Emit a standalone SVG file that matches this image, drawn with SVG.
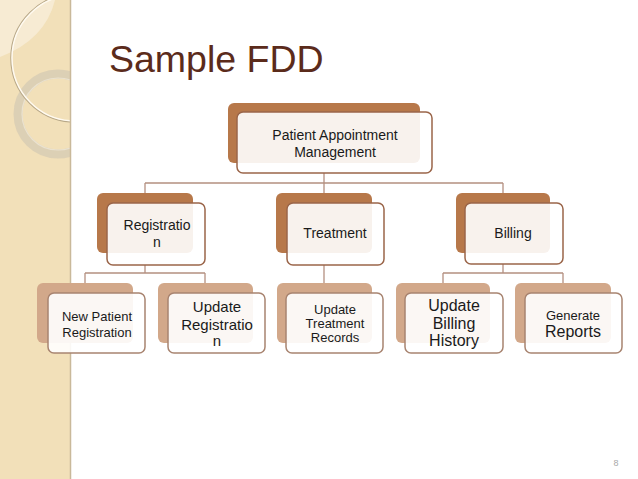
<svg xmlns="http://www.w3.org/2000/svg" width="638" height="479" viewBox="0 0 638 479">
<defs>
<style>
.t{font-family:"Liberation Sans",Arial,sans-serif;fill:#1a1a1a;text-anchor:middle}
.b1{fill:#b7784a}
.b3{fill:#d2a88a}
.f1{fill:#fff;fill-opacity:0.9;stroke:#9a6549;stroke-width:1.5}
.f3{fill:#fff;fill-opacity:0.9;stroke:#a88470;stroke-width:1.5}
.c{fill:none;stroke:#b49080;stroke-width:1.3}
</style>
<clipPath id="side"><rect x="0" y="0" width="70" height="479"/></clipPath>
</defs>
<rect width="638" height="479" fill="#fff"/>
<g id="sidebar">
<rect x="0" y="0" width="70" height="479" fill="#f2e0b9"/>
<g clip-path="url(#side)">
<path d="M0 0 H55 Q45 40 0 57 Z" fill="#f7ebd3"/>
<circle cx="58" cy="114" r="40" fill="none" stroke="#d8ccb4" stroke-width="9" stroke-opacity="0.85"/>
<circle cx="58" cy="114" r="36" fill="none" stroke="#eee6d6" stroke-width="1.2" stroke-opacity="0.8"/>
<circle cx="75" cy="58" r="64" fill="none" stroke="#b8a888" stroke-width="1.5"/>
<circle cx="75" cy="58" r="63" fill="none" stroke="#fffaf0" stroke-width="1.5"/>
</g>
<line x1="70.5" y1="0" x2="70.5" y2="479" stroke="#c9b99a" stroke-width="1.5"/>
</g>
<text x="109" y="72" font-family="'Liberation Sans',Arial,sans-serif" font-size="37.5" fill="#5b2b1b">Sample FDD</text>
<g id="connectors">
<path class="c" d="M324 173 V183 M145 183 H503 M145 183 V193 M324 183 V193 M503 183 V193"/>
<path class="c" d="M145 265 V273 M85 273 H205 M85 273 V283 M205 273 V283"/>
<path class="c" d="M324 265 V283"/>
<path class="c" d="M503 264 V273 M443 273 H563 M443 273 V283 M563 273 V283"/>
</g>
<g id="root">
<rect class="b1" x="228" y="103" width="192" height="60" rx="6"/>
<rect class="f1" x="237" y="112" width="195" height="61" rx="6"/>
<text class="t" x="335" y="140" font-size="14">Patient Appointment</text>
<text class="t" x="335" y="157" font-size="14">Management</text>
</g>
<g id="registration">
<rect class="b1" x="97" y="193" width="96" height="60" rx="6"/>
<rect class="f1" x="107" y="203" width="98" height="62" rx="6"/>
<text class="t" x="157" y="230" font-size="14">Registratio</text>
<text class="t" x="157" y="247" font-size="14">n</text>
</g>
<g id="treatment">
<rect class="b1" x="276" y="193" width="96" height="60" rx="6"/>
<rect class="f1" x="287" y="203" width="97" height="62" rx="6"/>
<text class="t" x="335" y="238" font-size="14">Treatment</text>
</g>
<g id="billing">
<rect class="b1" x="456" y="193" width="94" height="60" rx="6"/>
<rect class="f1" x="465" y="203" width="98" height="61" rx="6"/>
<text class="t" x="513" y="238" font-size="14">Billing</text>
</g>
<g id="new-patient">
<rect class="b3" x="37" y="283" width="96" height="60" rx="6"/>
<rect class="f3" x="48" y="293" width="97" height="60" rx="6"/>
<text class="t" x="97" y="321" font-size="13">New Patient</text>
<text class="t" x="97" y="337" font-size="13">Registration</text>
</g>
<g id="update-registration">
<rect class="b3" x="158" y="283" width="95" height="60" rx="6"/>
<rect class="f3" x="168" y="293" width="97" height="60" rx="6"/>
<text class="t" x="217" y="312" font-size="15">Update</text>
<text class="t" x="217" y="330" font-size="15">Registratio</text>
<text class="t" x="217" y="346" font-size="15">n</text>
</g>
<g id="update-treatment">
<rect class="b3" x="277" y="283" width="95" height="60" rx="6"/>
<rect class="f3" x="286" y="293" width="97" height="60" rx="6"/>
<text class="t" x="335" y="314" font-size="13">Update</text>
<text class="t" x="335" y="328" font-size="13">Treatment</text>
<text class="t" x="335" y="342" font-size="13">Records</text>
</g>
<g id="update-billing">
<rect class="b3" x="396" y="283" width="94" height="60" rx="6"/>
<rect class="f3" x="405" y="293" width="98" height="60" rx="6"/>
<text class="t" x="454" y="311" font-size="16">Update</text>
<text class="t" x="454" y="329" font-size="16">Billing</text>
<text class="t" x="454" y="346" font-size="16">History</text>
</g>
<g id="generate-reports">
<rect class="b3" x="515" y="283" width="96" height="60" rx="6"/>
<rect class="f3" x="525" y="293" width="97" height="60" rx="6"/>
<text class="t" x="573" y="320" font-size="13">Generate</text>
<text class="t" x="573" y="337" font-size="16">Reports</text>
</g>
<text x="616" y="466" font-family="'Liberation Sans',Arial,sans-serif" font-size="9" fill="#a8a8a8" text-anchor="middle">8</text>
</svg>
